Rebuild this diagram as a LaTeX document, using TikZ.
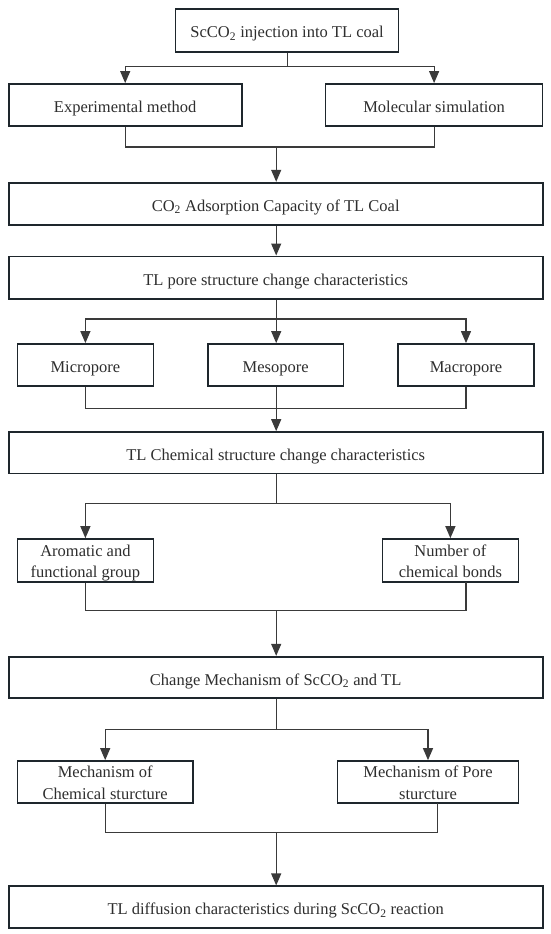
\documentclass[tikz,border=0pt]{standalone}
\usepackage{fontspec}
\setmainfont{Liberation Serif}
\usetikzlibrary{arrows.meta,calc}
\definecolor{ln}{HTML}{3A3A3A}
\definecolor{bx}{HTML}{1E262C}
\definecolor{tx}{HTML}{2E2E2E}
\begin{document}
\begin{tikzpicture}[x=1pt,y=-1pt,
  box/.style={draw=bx,line width=1.7pt,fill=white,text=tx,inner sep=0pt,align=center,
    font=\fontsize{16.5}{21.5}\selectfont},
  one/.style={box,text height=17.5pt,text depth=2.5pt},
  two/.style={box,text height=34.5pt,text depth=0.5pt},
  con/.style={draw=ln,line width=1.2pt},
  arr/.style={con,-{Triangle[length=12pt,width=10pt]}}]
\useasboundingbox (0,0) rectangle (550,934);
% nodes
\node[one,minimum width=223pt,minimum height=42.4pt] (top) at (287.1,30.5) {ScCO\textsubscript{2} injection into TL coal};
\node[one,minimum width=233pt,minimum height=41.7pt] (exp) at (125.2,104.8) {Experimental method};
\node[one,minimum width=217pt,minimum height=41.7pt] (mol) at (434.1,104.8) {Molecular simulation};
\node[one,minimum width=534pt,minimum height=42.3pt] (co2) at (275.7,203.8) {CO\textsubscript{2} Adsorption Capacity of TL Coal};
\node[one,minimum width=534pt,minimum height=42.3pt] (pore) at (275.7,277.5) {TL pore structure change characteristics};
\node[one,minimum width=136pt,minimum height=41.7pt] (micro) at (85.4,364.8) {Micropore};
\node[one,minimum width=135.4pt,minimum height=41.7pt] (meso) at (275.7,364.8) {Mesopore};
\node[one,minimum width=135.7pt,minimum height=41.7pt] (macro) at (466,364.8) {Macropore};
\node[one,minimum width=534pt,minimum height=41.3pt] (chem) at (275.7,452.7) {TL Chemical structure change characteristics};
\node[two,minimum width=136pt,minimum height=43pt] (arom) at (85.4,560.5) {Aromatic and\\functional group};
\node[two,minimum width=136pt,minimum height=43pt] (num) at (450.4,560.5) {Number of\\chemical bonds};
\node[one,minimum width=534pt,minimum height=41.6pt] (mech) at (275.7,677.5) {Change Mechanism of ScCO\textsubscript{2} and TL};
\node[two,minimum width=175.5pt,minimum height=42pt] (mchem) at (105.2,782) {Mechanism of\\Chemical sturcture};
\node[two,minimum width=181pt,minimum height=42pt] (mpore) at (428,782) {Mechanism of Pore\\sturcture};
\node[one,minimum width=534pt,minimum height=42pt] (diff) at (275.7,907.3) {TL diffusion characteristics during ScCO\textsubscript{2} reaction};
% junction coordinates
\coordinate (j1) at (287.1,66.7);
\coordinate (m1) at (276.2,147);
\coordinate (j2) at (276.2,319);
\coordinate (m2) at (276.2,408.7);
\coordinate (j3) at (276.2,503.3);
\coordinate (m3) at (276.2,610.3);
\coordinate (numr) at (465.9,582);
\coordinate (j4) at (276.2,729.7);
\coordinate (m4) at (276.2,832.3);
\coordinate (mporer) at (437.5,803);
% connectors
\draw[con] (top.south) -- (j1);
\draw[arr] (j1) -| (exp.north);
\draw[arr] (j1) -| (mol.north);
\draw[con] (exp.south) |- (m1) -| (mol.south);
\draw[arr] (m1) -- (m1 |- co2.north);
\draw[arr] (co2.south -| m1) -- (m1 |- pore.north);
\draw[con] (pore.south -| j2) -- (j2);
\draw[arr] (j2) -| (micro.north);
\draw[arr] (j2) -- (j2 |- meso.north);
\draw[arr] (j2) -| (macro.north);
\draw[con] (micro.south) |- (m2) -| (macro.south);
\draw[con] (meso.south -| m2) -- (m2);
\draw[arr] (m2) -- (m2 |- chem.north);
\draw[con] (chem.south -| j3) -- (j3);
\draw[arr] (j3) -| (arom.north);
\draw[arr] (j3) -| (num.north);
\draw[con] (arom.south) |- (m3) -| (numr);
\draw[arr] (m3) -- (m3 |- mech.north);
\draw[con] (mech.south -| j4) -- (j4);
\draw[arr] (j4) -| (mchem.north);
\draw[arr] (j4) -| (mpore.north);
\draw[con] (mchem.south) |- (m4) -| (mporer);
\draw[arr] (m4) -- (m4 |- diff.north);
\end{tikzpicture}
\end{document}
